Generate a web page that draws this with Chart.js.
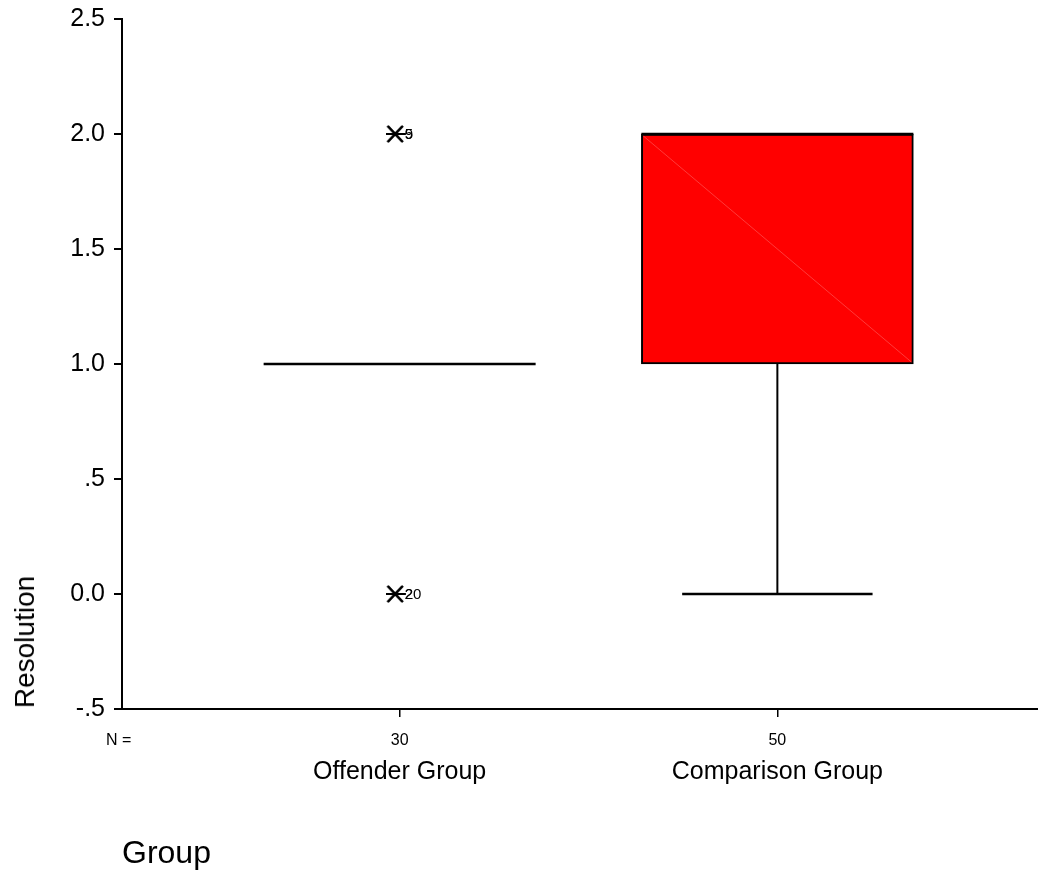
<!DOCTYPE html>
<html>
<head>
<meta charset="utf-8">
<script src="https://cdn.jsdelivr.net/npm/chart.js@4/dist/chart.umd.min.js"></script>
<style>
    body { margin: 0; background: #fff; font-family: "Liberation Sans", Arial, sans-serif; overflow: hidden; }
    #wrap { position: relative; width: 1038px; height: 871px; }
    canvas { display: block; }
    .lbl { position: absolute; color: #000; white-space: nowrap; line-height: 1; }
    #yTitle { font-size: 28px; left: 25px; top: 642px; transform: translate(-50%, -50%) rotate(-90deg); }
    #xTitle { font-size: 32px; left: 122px; top: 836px; }
    #nLabel { font-size: 16px; left: 106px; top: 732px; }
</style>
</head>
<body>
<div id="wrap">
    <canvas id="boxChart"></canvas>
    <div class="lbl" id="yTitle">Resolution</div>
    <div class="lbl" id="xTitle">Group</div>
    <div class="lbl" id="nLabel">N =</div>
</div>
<script>
// box plot summary per group
const groups = ['Offender Group', 'Comparison Group'];
const nValues = [30, 50];
const whiskerLow = [1, 0];
const q1 = [1, 1];
const medians = [1, 2];
const q3 = [1, 2];
const whiskerHigh = [1, 2];

// extreme values (x = 1-based group position)
const outlierGroup = [1, 1, 1, 1];
const outlierValues = [2, 2, 0, 0];
const outlierCases = ['5', '9', '20', '2'];

const yTicks = [-0.5, 0, 0.5, 1, 1.5, 2, 2.5];

const boxWidth = 272;
const xMin = 0.265;
const xMax = 2.69;

// SPSS style extreme marker (sits a little left of centre, like the original)
function makeAsterisk() {
    const c = document.createElement('canvas');
    c.width = 28;
    c.height = 18;
    const g = c.getContext('2d');
    g.strokeStyle = '#000';
    g.lineWidth = 2;
    g.beginPath();
    g.moveTo(0, 9); g.lineTo(20, 9);
    g.moveTo(2, 1); g.lineTo(17, 17);
    g.moveTo(2, 17); g.lineTo(17, 1);
    g.stroke();
    return c;
}

const boxExtras = {
    id: 'boxExtras',
    afterDatasetsDraw(chart) {
        const ctx = chart.ctx;
        const xs = chart.scales.x;
        const ys = chart.scales.y;
        ctx.save();
        for (let i = 0; i < groups.length; i++) {
            const cx = xs.getPixelForValue(i + 1);
            const half = boxWidth / 2;
            const cap = boxWidth * 0.35;
            // faint diagonal seen inside filled boxes
            if (q3[i] > q1[i]) {
                ctx.strokeStyle = 'rgba(255,140,140,0.7)';
                ctx.lineWidth = 0.6;
                ctx.beginPath();
                ctx.moveTo(cx - half + 2, ys.getPixelForValue(q3[i]) + 2);
                ctx.lineTo(cx + half - 2, ys.getPixelForValue(q1[i]) - 2);
                ctx.stroke();
            }
            ctx.strokeStyle = '#000';
            ctx.lineWidth = 2.5;
            ctx.beginPath();
            // median
            ctx.moveTo(cx - half, ys.getPixelForValue(medians[i]));
            ctx.lineTo(cx + half, ys.getPixelForValue(medians[i]));
            ctx.stroke();
            ctx.lineWidth = 2;
            ctx.beginPath();
            if (whiskerLow[i] < q1[i]) {
                ctx.moveTo(cx, ys.getPixelForValue(q1[i]));
                ctx.lineTo(cx, ys.getPixelForValue(whiskerLow[i]));
            }
            if (whiskerHigh[i] > q3[i]) {
                ctx.moveTo(cx, ys.getPixelForValue(q3[i]));
                ctx.lineTo(cx, ys.getPixelForValue(whiskerHigh[i]));
            }
            ctx.stroke();
            ctx.lineWidth = 2.5;
            ctx.beginPath();
            if (whiskerLow[i] < q1[i]) {
                ctx.moveTo(cx - cap, ys.getPixelForValue(whiskerLow[i]));
                ctx.lineTo(cx + cap, ys.getPixelForValue(whiskerLow[i]));
            }
            if (whiskerHigh[i] > q3[i]) {
                ctx.moveTo(cx - cap, ys.getPixelForValue(whiskerHigh[i]));
                ctx.lineTo(cx + cap, ys.getPixelForValue(whiskerHigh[i]));
            }
            ctx.stroke();
        }
        // case numbers next to the extremes
        ctx.fillStyle = '#000';
        ctx.font = '15px "Liberation Sans", Arial, sans-serif';
        ctx.textBaseline = 'middle';
        for (let k = 0; k < outlierValues.length; k++) {
            const px = xs.getPixelForValue(outlierGroup[k]);
            const py = ys.getPixelForValue(outlierValues[k]);
            ctx.fillText(outlierCases[k], px + 5, py + 1);
        }
        ctx.restore();
    }
};

document.addEventListener('DOMContentLoaded', () => {
    const ctx = document.getElementById('boxChart').getContext('2d');
    const boxData = groups.map((g, i) => ({ x: i + 1, y: [q1[i], q3[i]] }));
    const outlierData = outlierValues.map((v, k) => ({ x: outlierGroup[k], y: v }));

    new Chart(ctx, {
        type: 'bar',
        data: {
            datasets: [
                {
                    type: 'scatter',
                    data: outlierData,
                    pointStyle: makeAsterisk(),
                    order: 0
                },
                {
                    type: 'bar',
                    data: boxData,
                    backgroundColor: '#ff0000',
                    borderColor: '#000',
                    borderWidth: 2,
                    borderSkipped: false,
                    barThickness: boxWidth,
                    order: 1
                }
            ]
        },
        options: {
            responsive: true,
            maintainAspectRatio: false,
            animation: false,
            layout: { autoPadding: false, padding: { top: 19, right: 0, bottom: 72, left: 0 } },
            plugins: {
                legend: { display: false },
                tooltip: { enabled: false }
            },
            scales: {
                x: {
                    type: 'linear',
                    position: 'bottom',
                    offset: false,
                    min: xMin,
                    max: xMax,
                    afterBuildTicks: (axis) => { axis.ticks = groups.map((g, i) => ({ value: i + 1 })); },
                    afterFit: (axis) => { axis.height = 40; },
                    ticks: {
                        color: '#000',
                        padding: 14,
                        maxRotation: 0,
                        font: { family: '"Liberation Sans", Arial', size: 16 },
                        callback: (v) => String(nValues[Math.round(v) - 1])
                    },
                    grid: { offset: false, drawOnChartArea: false, drawTicks: true, tickLength: 8, color: '#000', lineWidth: 1.5 },
                    border: { display: true, color: '#000', width: 2 }
                },
                x2: {
                    type: 'linear',
                    position: 'bottom',
                    offset: false,
                    min: xMin,
                    max: xMax,
                    afterBuildTicks: (axis) => { axis.ticks = groups.map((g, i) => ({ value: i + 1 })); },
                    afterFit: (axis) => { axis.height = 50; },
                    ticks: {
                        color: '#000',
                        padding: 8,
                        maxRotation: 0,
                        font: { family: '"Liberation Sans", Arial', size: 25 },
                        callback: (v) => groups[Math.round(v) - 1]
                    },
                    grid: { display: false, drawTicks: false },
                    border: { display: false }
                },
                y: {
                    min: -0.5,
                    max: 2.5,
                    afterBuildTicks: (axis) => { axis.ticks = yTicks.map(v => ({ value: v })); },
                    afterFit: (axis) => {
                        axis.width = 122;
                        axis.paddingTop = 0;
                        axis.paddingBottom = 0;
                    },
                    ticks: {
                        color: '#000',
                        padding: 9,
                        font: { family: '"Liberation Sans", Arial', size: 25 },
                        callback: (v) => {
                            let s = v.toFixed(1);
                            if (v !== 0 && Math.abs(v) < 1) s = s.replace('0.', '.');
                            return s;
                        }
                    },
                    grid: { drawOnChartArea: false, drawTicks: true, tickLength: 8, color: '#000', lineWidth: 2 },
                    border: { display: true, color: '#000', width: 2 }
                }
            }
        },
        plugins: [boxExtras]
    });
});
</script>
</body>
</html>
